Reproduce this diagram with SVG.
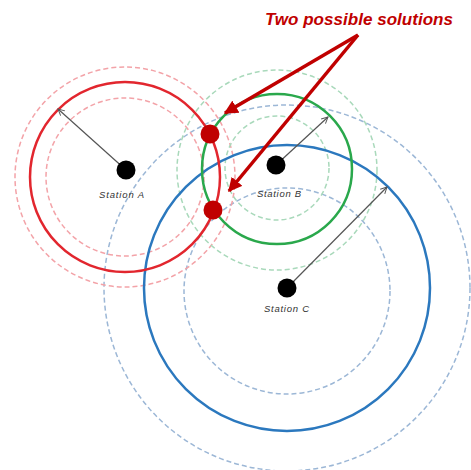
<svg xmlns="http://www.w3.org/2000/svg" width="471" height="470" viewBox="0 0 471 470">
<defs>
<style>
.solid{fill:none;stroke-width:2.5}
.dash{fill:none;stroke-width:1.5;stroke-dasharray:5 3}
.red{stroke:#e2262e}.redd{stroke:#f3a3a8}
.grn{stroke:#2aa84c}.grnd{stroke:#a9d9bb}
.blu{stroke:#2b78be}.blud{stroke:#9cb7d6}
.st{fill:#000}
.lbl{font-family:"Liberation Sans",Arial,sans-serif;font-style:italic;font-size:9.5px;fill:#333}
.radius{stroke:#555;stroke-width:1.2;fill:none;marker-end:url(#open)}
.pointer{stroke:#c00000;stroke-width:3.5;fill:none;marker-end:url(#solidhead)}
</style>
<marker id="open" viewBox="0 0 10 10" refX="9" refY="5" markerWidth="8" markerHeight="8" orient="auto" markerUnits="userSpaceOnUse">
<path d="M1,1 L9,5 L1,9" fill="none" stroke="#555" stroke-width="1.2"/>
</marker>
<marker id="solidhead" viewBox="0 0 10 10" refX="9" refY="5" markerWidth="4" markerHeight="4" orient="auto">
<path d="M0,0 L10,5 L0,10 z" fill="#c00000"/>
</marker>
</defs>
<rect width="471" height="470" fill="#fff"/>
<g id="circles">
<circle class="dash blud" cx="287" cy="288" r="183"/>
<circle class="dash blud" cx="287" cy="291" r="103"/>
<circle class="dash redd" cx="125" cy="177" r="110"/>
<circle class="dash redd" cx="125" cy="177" r="79"/>
<circle class="dash grnd" cx="277" cy="170" r="100"/>
<circle class="dash grnd" cx="277" cy="168" r="52"/>
<circle class="solid blu" cx="287" cy="288" r="143"/>
<circle class="solid grn" cx="277" cy="169" r="75"/>
<circle class="solid red" cx="125" cy="177" r="95"/>
</g>
<g id="connectors">
<line class="radius" x1="126" y1="170" x2="58" y2="109"/>
<line class="radius" x1="276" y1="165" x2="328" y2="117"/>
<line class="radius" x1="287" y1="288" x2="387" y2="187"/>
</g>
<g id="station-a">
<circle class="st" cx="126" cy="170" r="9.5"/>
<text class="lbl" x="99" y="198" textLength="45">Station A</text>
</g>
<g id="station-b">
<circle class="st" cx="276" cy="165" r="9.5"/>
<text class="lbl" x="257" y="197" textLength="44">Station B</text>
</g>
<g id="station-c">
<circle class="st" cx="287" cy="288" r="9.5"/>
<text class="lbl" x="264" y="312" textLength="45">Station C</text>
</g>
<g id="solutions">
<circle cx="210" cy="134" r="9.5" fill="#c00000"/>
<circle cx="213" cy="210" r="9.5" fill="#c00000"/>
</g>
<g id="callout">
<text x="265" y="25" font-family="Liberation Sans,Arial,sans-serif" font-weight="bold" font-style="italic" font-size="17" fill="#c00000" textLength="188">Two possible solutions</text>
<line class="pointer" x1="358" y1="35" x2="225" y2="113"/>
<line class="pointer" x1="358" y1="35" x2="229" y2="191"/>
</g>
</svg>
